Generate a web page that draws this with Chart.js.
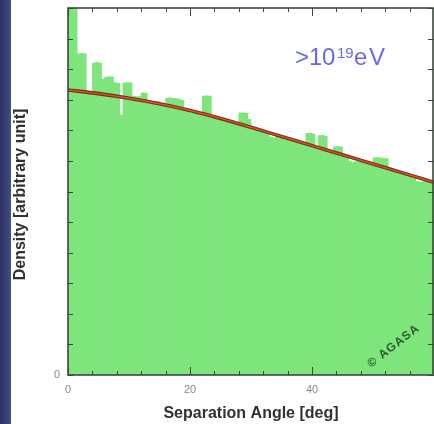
<!DOCTYPE html>
<html>
<head>
<meta charset="utf-8">
<script src="https://cdn.jsdelivr.net/npm/chart.js@4/dist/chart.umd.min.js"></script>
<style>
  html, body { margin: 0; padding: 0; overflow: hidden; }
  body {
    width: 434px; height: 424px;
    background: linear-gradient(90deg, #2a3163 0, #3b4377 8px, #4a5283 11px, #ffffff 11px);
  }
  canvas { display: block; }
</style>
</head>
<body>
<canvas id="grafico" width="434" height="424"></canvas>
<script>
/* =========================
   DADOS
========================= */
const larguraBin = 0.5; // graus por bin

// densidade por bin de 0.5 grau (0 a 60 graus)
const densidade = [
  13, 13, 13, 10.5, 10.52, 10.5, 9.26, 9.22, 10.2, 10.22,
  10.2, 9.67, 9.74, 9.75, 9.74, 9.55, 9.54, 8.5, 9.55, 9.56,
  9.55, 9.12, 9.1, 9.1, 9.23, 9.22, 8.96, 8.93, 8.9, 8.94,
  8.86, 8.84, 9.05, 9.06, 9.05, 9.04, 9.02, 8.98, 8.7, 8.68,
  8.55, 8.57, 8.6, 8.58, 9.12, 9.13, 9.12, 8.47, 8.36, 8.35,
  8.38, 8.36, 8.33, 8.31, 8.28, 8.25, 8.57, 8.57, 8.56, 8.36,
  8.1, 8.06, 8.03, 8.0, 7.98, 7.94, 7.78, 7.76, 7.86, 7.83,
  7.8, 7.77, 7.74, 7.71, 7.68, 7.65, 7.62, 7.6, 7.9, 7.9,
  7.88, 7.46, 7.83, 7.84, 7.8, 7.35, 7.32, 7.46, 7.47, 7.46,
  7.19, 7.16, 6.98, 6.96, 6.98, 7.04, 7.02, 6.99, 6.96, 6.93,
  7.1, 7.11, 7.1, 7.09, 7.08, 6.74, 6.71, 6.68, 6.65, 6.62,
  6.59, 6.56, 6.53, 6.5, 6.33, 6.31, 6.32, 6.38, 6.35, 6.32
];

// curva de ajuste
const ajusteAngulos = [0, 5, 10, 15, 20, 25, 30, 35, 40, 45, 50, 55, 60];
const ajusteValores = [9.32, 9.2, 9.05, 8.87, 8.65, 8.39, 8.1, 7.8, 7.5, 7.2, 6.9, 6.6, 6.3];

// eixos
const rotulosX = [0, 20, 40];
const rotulosY = [0];

const barras = densidade.map((v, i) => ({ x: i * larguraBin + larguraBin / 2, y: v }));
const ajuste = ajusteAngulos.map((a, i) => ({ x: a, y: ajusteValores[i] }));

/* =========================
   MOLDURA, MARCAS E TEXTOS
========================= */
const moldura = {
  id: 'moldura',
  afterDatasetsDraw(chart) {
    const { ctx, chartArea: a, scales: { x, y } } = chart;
    ctx.save();

    // marcas do eixo x (a cada 4 graus, maiores a cada 20)
    ctx.strokeStyle = '#3e473e';
    ctx.lineWidth = 1;
    ctx.beginPath();
    for (let v = 0; v <= 60; v += 4) {
      const px = Math.round(x.getPixelForValue(v)) + 0.5;
      const tam = v % 20 === 0 ? 8 : 4;
      ctx.moveTo(px, a.bottom); ctx.lineTo(px, a.bottom - tam);
      ctx.moveTo(px, a.top); ctx.lineTo(px, a.top + tam);
    }
    for (let v = 0; v <= 12; v++) {
      const py = Math.round(y.getPixelForValue(v)) + 0.5;
      ctx.moveTo(a.left, py); ctx.lineTo(a.left + 5, py);
      ctx.moveTo(a.right, py); ctx.lineTo(a.right - 6, py);
    }
    ctx.stroke();

    ctx.lineWidth = 1.6;
    ctx.strokeRect(a.left, a.top, a.right - a.left - 1, a.bottom - a.top);

    // rotulos
    ctx.fillStyle = '#8a8a8a';
    ctx.font = '11px "Liberation Sans"';
    ctx.textAlign = 'center';
    ctx.textBaseline = 'middle';
    rotulosX.forEach(v => ctx.fillText(String(v), x.getPixelForValue(v), a.bottom + 15));
    ctx.textAlign = 'right';
    rotulosY.forEach(v => ctx.fillText(String(v), a.left - 8, y.getPixelForValue(v)));

    // titulos
    ctx.fillStyle = '#303030';
    ctx.font = 'bold 16px "Liberation Sans"';
    ctx.textAlign = 'center';
    ctx.textBaseline = 'alphabetic';
    ctx.fillText('Separation Angle [deg]', (a.left + a.right) / 2, 418);
    ctx.save();
    ctx.translate(25, (a.top + a.bottom) / 2 + 3);
    ctx.rotate(-Math.PI / 2);
    ctx.fillText('Density [arbitrary unit]', 0, 0);
    ctx.restore();

    // energia: >10^19 eV
    ctx.fillStyle = '#6767f0';
    ctx.textAlign = 'left';
    ctx.font = '24px "Liberation Sans"';
    ctx.fillText('>', 295, 65);
    ctx.fillText('1', 309, 65);
    ctx.fillText('0', 322, 65);
    ctx.font = '15px "Liberation Sans"';
    ctx.fillText('19', 337, 58);
    ctx.font = '24px "Liberation Sans"';
    ctx.fillText('e', 354, 65);
    ctx.fillText('V', 369, 65);

    // copyright
    ctx.save();
    ctx.translate(371, 368);
    ctx.rotate(-38 * Math.PI / 180);
    ctx.fillStyle = '#2f5a31';
    ctx.font = 'bold 12px "Liberation Sans"';
    ctx.letterSpacing = '1px';
    ctx.fillText('\u00A9 AGASA', 0, 0);
    ctx.restore();

    ctx.restore();
  }
};

/* =========================
   GRAFICO
========================= */
const ctx = document.getElementById('grafico');

new Chart(ctx, {
  type: 'bar',
  data: {
    datasets: [
      {
        type: 'line',
        data: ajuste,
        borderColor: '#ea4a2c',
        borderWidth: 1.4,
        pointRadius: 0,
        cubicInterpolationMode: 'monotone',
        order: 1
      },
      {
        type: 'line',
        data: ajuste,
        borderColor: '#6d3518',
        borderWidth: 3.6,
        pointRadius: 0,
        cubicInterpolationMode: 'monotone',
        order: 2
      },
      {
        type: 'bar',
        data: barras,
        backgroundColor: '#7de57b',
        borderWidth: 0,
        barPercentage: 1,
        categoryPercentage: 1,
        order: 3
      }
    ]
  },
  options: {
    responsive: false,
    animation: false,
    devicePixelRatio: 1,
    layout: { padding: { left: 68, right: 0, top: 8, bottom: 49 } },
    plugins: {
      legend: { display: false },
      tooltip: { enabled: false }
    },
    scales: {
      x: { type: 'linear', min: 0, max: 60, offset: false, display: false },
      y: { min: 0, max: 12, display: false }
    }
  },
  plugins: [moldura]
});
</script>
</body>
</html>
